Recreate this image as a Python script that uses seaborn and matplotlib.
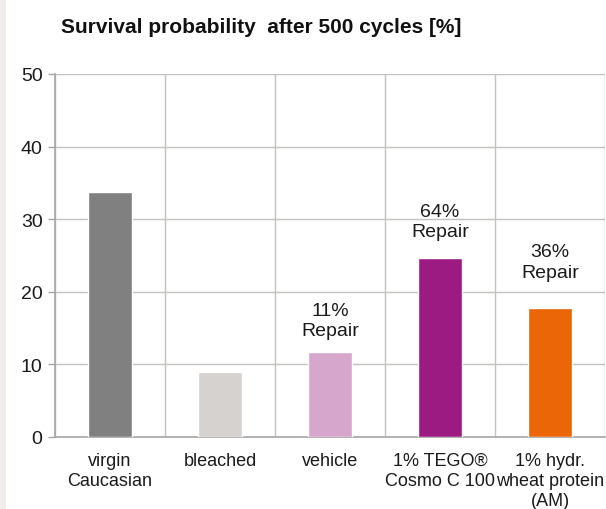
import matplotlib
matplotlib.use("Agg")
import matplotlib.pyplot as plt
import seaborn as sns
import pandas as pd
import numpy as np
from matplotlib.patches import Rectangle

categories = ["virgin\nCaucasian", "bleached", "vehicle", "1% TEGO®\nCosmo C 100", "1% hydr.\nwheat protein\n(AM)"]
values = [33.7, 8.9, 11.7, 24.7, 17.8]
colors = ["#808080", "#d5d2cf", "#d7a6cd", "#9b1b83", "#ea6606"]
annotations = ["", "", "11%\nRepair", "64%\nRepair", "36%\nRepair"]
label_y = [None, None, 16.0, 29.7, 24.1]
yticks = [0, 10, 20, 30, 40, 50]

sns.set_theme(style="white")
plt.rcParams['font.family'] = ['Liberation Sans', 'DejaVu Sans']

fig = plt.figure(figsize=(6.06, 5.10), dpi=100)
fig.patches.append(Rectangle((0, 0), 6/606, 1, transform=fig.transFigure,
                             facecolor="#eeede9", edgecolor="none", zorder=0))
ax = fig.add_axes([55/606, 72/510, 550/606, 363/510])

df = pd.DataFrame({"cat": categories, "val": values})
sns.barplot(data=df, x="cat", y="val", hue="cat", palette=colors, width=0.4,
            legend=False, ax=ax, saturation=1, zorder=3)

ax.set_xlim(-0.5, 4.5)
ax.set_ylim(0, 50)
ax.set_yticks(yticks)
ax.set_yticklabels([str(t) for t in yticks], fontsize=14, color="#1a1a1a")
ax.set_xticks(range(len(categories)))
ax.set_xticklabels(categories, fontsize=13, color="#1a1a1a", linespacing=1.22)
ax.set_xticks(np.arange(-0.5, 5.0, 1.0), minor=True)
ax.tick_params(axis="x", which="major", length=0, pad=11)
ax.tick_params(axis="x", which="minor", length=5, width=1, color="#a6a6a6")
ax.tick_params(axis="y", which="major", length=5, width=1, color="#a6a6a6", pad=4, left=True)
ax.set_xlabel("")
ax.set_ylabel("")

ax.grid(True, axis="y", which="major", color="#c4c1be", linewidth=1, zorder=0)
ax.grid(True, axis="x", which="minor", color="#c4c1be", linewidth=1, zorder=0)
ax.grid(False, axis="x", which="major")
ax.set_axisbelow(True)

for side in ["left", "bottom"]:
    ax.spines[side].set_color("#a6a6a6")
    ax.spines[side].set_linewidth(1.2)
for side in ["top", "right"]:
    ax.spines[side].set_visible(False)

for i, (txt, ly) in enumerate(zip(annotations, label_y)):
    if txt:
        ax.text(i, ly, txt, ha="center", va="center", fontsize=14,
                color="#1a1a1a", linespacing=1.25)

fig.text(61/606, 1 - 33/510, "Survival probability  after 500 cycles [%]",
         fontsize=15, fontweight="bold", ha="left", va="baseline", color="#111111")

fig.savefig("out.png", dpi=100)
